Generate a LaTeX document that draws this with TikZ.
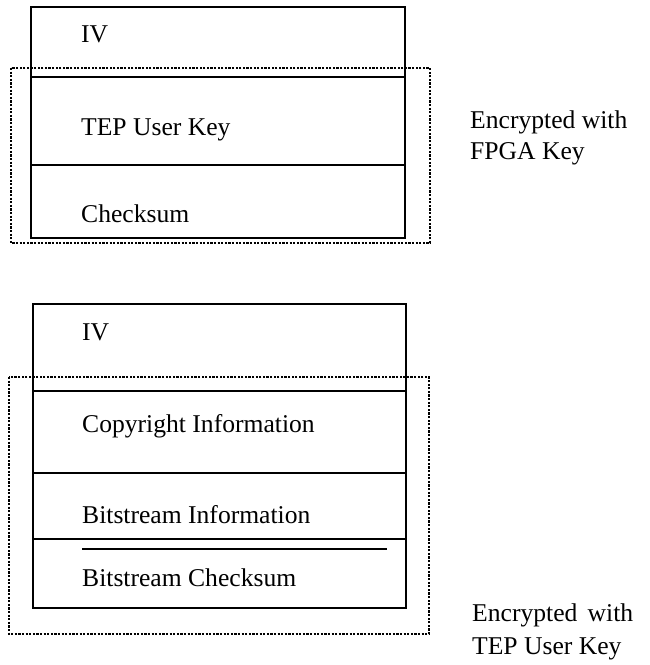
\documentclass[tikz,border=0pt]{standalone}
\usepackage{fontspec}
\setmainfont{Liberation Serif}
\begin{document}
\begin{tikzpicture}[x=1pt,y=-1pt,
  solidline/.style={line width=1.3pt},
  dotbox/.style={line width=2.2pt,dash pattern=on 2.2pt off 1.4pt},
  lbl/.style={anchor=base west,inner sep=0pt,font=\fontsize{25.6}{31}\selectfont}]
\useasboundingbox (0,0) rectangle (649,665);
% upper block
\draw[solidline] (31,7) rectangle (405,238);
\draw[solidline] (31,77) -- (405,77);
\draw[solidline] (31,165) -- (405,165);
\draw[dotbox] (11,68) rectangle (430,243);
\node[lbl] (iv1) at (81,42) {IV};
\node[lbl] (tep) at (81,135) {TEP User Key};
\node[lbl] (chk) at (81,222) {Checksum};
\node[lbl] (enc1a) at (470,128) {Encrypted with};
\node[lbl] (enc1b) at (470,159) {FPGA Key};
% lower block
\draw[solidline] (33,304) rectangle (406,608);
\draw[solidline] (33,391) -- (406,391);
\draw[solidline] (33,473) -- (406,473);
\draw[solidline] (33,539) -- (406,539);
\draw[line width=1.1pt] (82,549) -- (387,549);
\draw[dotbox] (9,377) rectangle (429,634);
\node[lbl] (iv2) at (82,340) {IV};
\node[lbl] (copy) at (82,432) {Copyright Information};
\node[lbl] (bsi) at (82,523) {Bitstream Information};
\node[lbl] (bsc) at (82,586) {Bitstream Checksum};
\node[lbl] (enc2a) at (472,621) {\makebox[161pt][s]{Encrypted\hfil with}};
\node[lbl] (enc2b) at (472,654) {TEP User Key};
\end{tikzpicture}
\end{document}
